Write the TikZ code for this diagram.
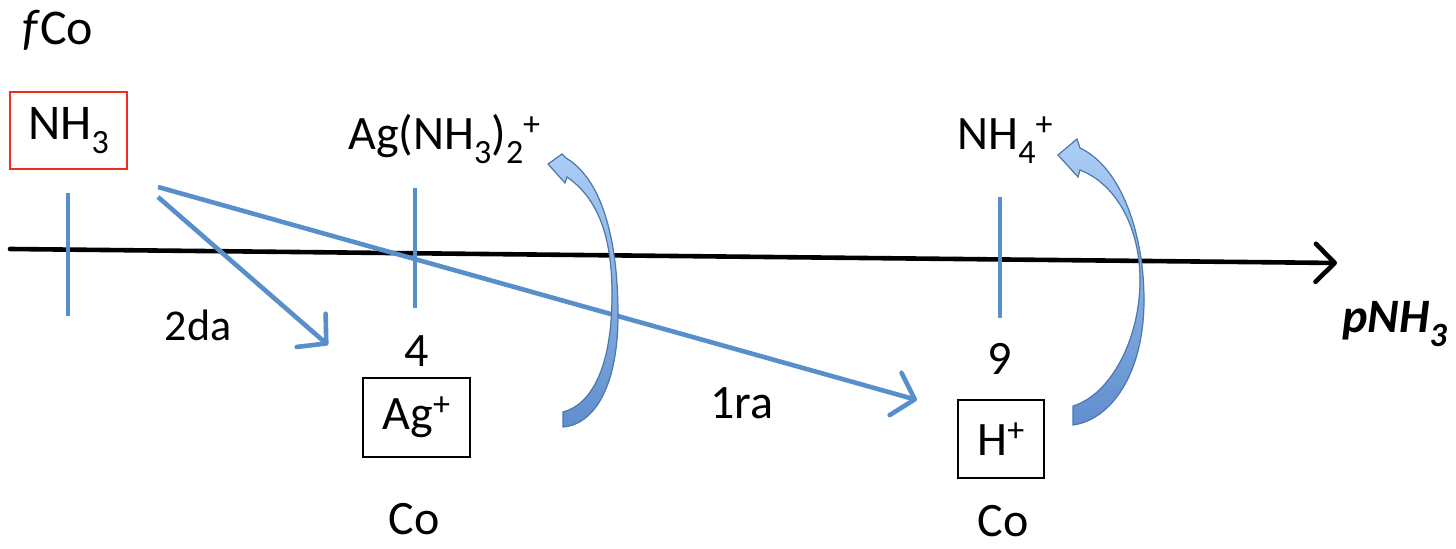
\documentclass[tikz,border=0pt]{standalone}
\usepackage{fontspec}
\setmainfont{Carlito}
\usetikzlibrary{arrows.meta}
\definecolor{axblue}{RGB}{88,142,202}
\definecolor{boxred}{RGB}{240,45,30}
\definecolor{bendtop}{RGB}{172,206,246}
\definecolor{bendbot}{RGB}{96,142,206}
\newcommand{\lo}[1]{\raisebox{-0.28em}{\fontsize{17}{18}\selectfont #1}}
\newcommand{\hi}[1]{\raisebox{0.3em}{\fontsize{17}{18}\selectfont #1}}

\begin{document}
\begin{tikzpicture}[x=0.5pt,y=-0.5pt,
	lbl/.style={font=\fontsize{24}{28}\selectfont,inner sep=0pt},
	spbox/.style={draw,line width=1pt,inner sep=0pt,font=\fontsize{24}{28}\selectfont},
	tickline/.style={axblue,line width=2.3pt},
	shiftarrow/.style={axblue,line width=2.3pt,-{Straight Barb[length=10pt,width=22pt,line width=2.3pt,round]}},
	bendarrow/.style={draw=axblue!85!black,line width=0.6pt,top color=bendtop,bottom color=bendbot}]
				\useasboundingbox (0,0) rectangle (1456,549);
				% pNH3 axis
				\coordinate (axl) at (10,249);
				\coordinate (axr) at (1337,263);
				\draw[line width=2.3pt,line cap=round,-{Straight Barb[length=9.5pt,width=19pt,line width=2.3pt,round]}] (axl) -- (axr);
				\foreach \x/\a/\b in {68/193/316, 415/188/308, 1000/197/318}
					\draw[tickline] (\x,\a) -- (\x,\b);
				\node[lbl,anchor=base west] (pnh3) at (1342,333) {\fontsize{24}{28}\selectfont\bfseries\itshape pNH\lo{3}};
				% species
				\node[lbl,anchor=base west,font=\fontsize{25}{29}\selectfont] (fco) at (22,45) {\textit{f}Co};
				\node[spbox,draw=boxred,minimum width=58.5pt,minimum height=38.5pt,font=\fontsize{25}{29}\selectfont] (nh3) at (68.5,130.5) {NH\lo{3}};
				\node[lbl,anchor=base west] (agnh) at (348,150) {Ag(NH\lo{3})\lo{2}\hi{+}};
				\node[lbl,anchor=base west] (nh4) at (957,150) {NH\lo{4}\hi{+}};
				\node[lbl,anchor=base] (pk1) at (417,367) {4};
				\node[lbl,anchor=base] (pk2) at (1000,375) {9};
				\node[spbox,minimum width=53.5pt,minimum height=39.5pt] (ag) at (416.5,417.5) {Ag\hi{+}};
				\node[spbox,minimum width=43pt,minimum height=39pt] (h) at (1001,439) {H\hi{+}};
				\node[lbl] (co1) at (414,519) {Co};
				\node[lbl] (co2) at (1003,521) {Co};
				% reactions
				\node[lbl,font=\fontsize{22}{26}\selectfont] (da) at (198,325) {2da};
				\node[lbl] (ra) at (742,403) {1ra};
				\coordinate (s1) at (158,197); \coordinate (t1) at (328,345);
				\coordinate (s2) at (158,187); \coordinate (t2) at (917,400);
				\draw[shiftarrow] (s1) -- (t1);
				\draw[shiftarrow] (s2) -- (t2);
				% curved arrows
				\filldraw[bendarrow] (548,164) -- (562,154) -- (566,158)
					.. controls (606,182) and (618,250) .. (618,315)
					.. controls (618,390) and (592,425) .. (563,427) -- (563,412)
					.. controls (590,405) and (612,370) .. (612,295)
					.. controls (612,240) and (600,200) .. (567,177) -- (565,183) -- cycle;
				\filldraw[bendarrow] (1058,155) -- (1077,139) -- (1080,148)
					.. controls (1122,168) and (1144,235) .. (1144,300)
					.. controls (1144,375) and (1110,420) .. (1073,425) -- (1073,406)
					.. controls (1110,395) and (1140,340) .. (1140,280)
					.. controls (1140,230) and (1118,185) .. (1080,170) -- (1078,177) -- cycle;
			\end{tikzpicture}
\end{document}
